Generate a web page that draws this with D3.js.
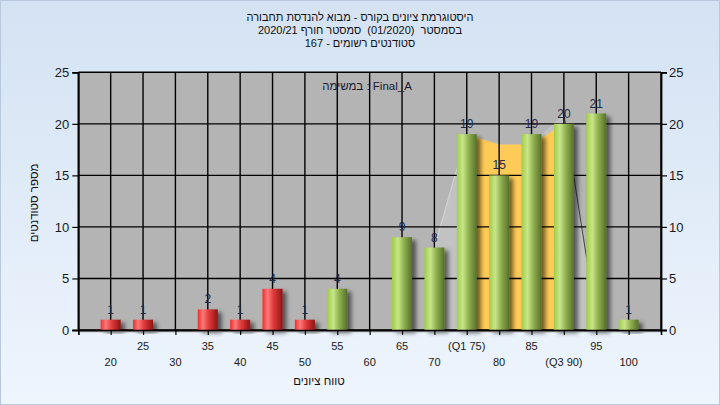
<!DOCTYPE html>
<html><head><meta charset="utf-8">
<script src="https://cdn.jsdelivr.net/npm/d3@7"></script>
<style>html,body{margin:0;padding:0;overflow:hidden}svg{display:block}.pre{white-space:pre}</style>
</head><body>
<script>
// ---- data ----
const categories = [20,25,30,35,40,45,50,55,60,65,70,75,80,85,90,95,100];
const counts     = [1, 1, 0, 2, 1, 4, 1, 4, 0, 9, 8, 19,15,19,20,21,1];
const passThreshold = 55;
const tickLabels = ["20","25","30","35","40","45","50","55","60","65","70","(Q1 75)","80","85","(Q3 90)","95","100"];
const quartileCats = [75,80,85,90];
const quartileTop  = [19,18,18,20];
const spreadCats = [70,75,80,85,90,95];
const spreadTop  = [8,19,18,18,21,1];
const yTicks = [0,5,10,15,20,25];
const titleLines = ["היסטוגרמת ציונים בקורס - מבוא להנדסת תחבורה","בסמסטר  (01/2020)  סמסטר חורף 2020/21","סטודנטים רשומים - 167"];
const legendText = "במשימה : Final_A";
const xTitle = "טווח ציונים";
const yTitle = "מספר סטודנטים";

const W=720,H=405;
const L=78.3,R=661,T=72.3,B=330;
const font = "'Liberation Sans', Arial, sans-serif";

const svg = d3.select("body").append("svg").attr("width",W).attr("height",H);
const defs = svg.append("defs");
const bg = defs.append("linearGradient").attr("id","bg").attr("x1",0).attr("y1",0).attr("x2",0).attr("y2",1);
bg.append("stop").attr("offset",0).attr("stop-color","#d4e2f3");
bg.append("stop").attr("offset",1).attr("stop-color","#eef5fd");
function hgrad(id, stops){
  const g = defs.append("linearGradient").attr("id",id).attr("x1",0).attr("y1",0).attr("x2",1).attr("y2",0);
  stops.forEach(s=>g.append("stop").attr("offset",s[0]).attr("stop-color",s[1]));
}
hgrad("red",[[0,"#f02a2a"],[0.25,"#ff7a7a"],[0.55,"#e03a3a"],[1,"#8e1414"]]);
hgrad("green",[[0,"#a0cc48"],[0.3,"#c8e68a"],[0.6,"#8fb04e"],[1,"#56702a"]]);
const f = defs.append("filter").attr("id","sh").attr("x","-30%").attr("y","-30%").attr("width","180%").attr("height","160%");
f.append("feDropShadow").attr("dx",4).attr("dy",3).attr("stdDeviation",2).attr("flood-color","#000").attr("flood-opacity",0.55);

svg.append("rect").attr("width",W).attr("height",H).attr("fill","url(#bg)");

const x = d3.scaleLinear().domain([15,105]).range([L,R]);
const y = d3.scaleLinear().domain([0,25]).range([B,T]);

svg.append("rect").attr("x",L).attr("y",T).attr("width",R-L).attr("height",B-T).attr("fill","#b4b4b4");

// spread area (light)
const sp = spreadCats.map((c,i)=>[c,spreadTop[i]]);
svg.append("path").datum(sp)
  .attr("d",d3.area().x(d=>x(d[0])).y0(y(0)).y1(d=>y(d[1])))
  .attr("fill","#c2c2c2");
svg.append("path").datum(sp.slice(-2))
  .attr("d",d3.line().x(d=>x(d[0])).y(d=>y(d[1])))
  .attr("fill","none").attr("stroke","#444").attr("stroke-width",1);
svg.append("path").datum(sp.slice(0,2))
  .attr("d",d3.line().x(d=>x(d[0])).y(d=>y(d[1])))
  .attr("fill","none").attr("stroke","#d8d8d8").attr("stroke-width",1);

// quartile area
const qa = quartileCats.map((c,i)=>[c,quartileTop[i]]);
svg.append("path").datum(qa)
  .attr("d",d3.area().x(d=>x(d[0])).y0(y(0)).y1(d=>y(d[1])))
  .attr("fill","#ffcb57");

// grid
const gridX = d3.range(15,106,5);
svg.append("g").selectAll("line").data(gridX).join("line")
  .attr("x1",d=>x(d)).attr("x2",d=>x(d)).attr("y1",T).attr("y2",B)
  .attr("stroke","#000").attr("stroke-width",1.4);
svg.append("g").selectAll("line").data(yTicks).join("line")
  .attr("x1",L).attr("x2",R).attr("y1",d=>y(d)).attr("y2",d=>y(d))
  .attr("stroke","#000").attr("stroke-width",1.4);

// bars
const bw = 20;
const data = categories.map((c,i)=>({c,v:counts[i]}));
svg.append("g").selectAll("rect").data(data.filter(d=>d.v>0)).join("rect")
  .attr("x",d=>x(d.c)-bw/2).attr("width",bw)
  .attr("y",d=>y(d.v)).attr("height",d=>y(0)-y(d.v))
  .attr("fill",d=>d.c>=passThreshold?"url(#green)":"url(#red)")
  .attr("filter","url(#sh)");

// value labels
svg.append("g").selectAll("text").data(data.filter(d=>d.v>0)).join("text")
  .attr("x",d=>x(d.c)).attr("y",d=>y(d.v)-6)
  .attr("text-anchor","middle").attr("font-family",font).attr("font-size",12)
  .attr("fill","#1f2a48").text(d=>d.v);

// axes
svg.append("line").attr("x1",L).attr("x2",R).attr("y1",B+1.5).attr("y2",B+1.5).attr("stroke","#8a8a8a").attr("stroke-width",1.5);
const xa = svg.append("g").attr("transform",`translate(0,${B})`)
  .call(d3.axisBottom(x).tickValues(gridX).tickSize(5).tickFormat(""));
xa.select(".domain").attr("stroke","#000").attr("stroke-width",1.4);
xa.selectAll(".tick line").attr("stroke","#000").attr("stroke-width",1.2);

const ya = svg.append("g").attr("transform",`translate(${L},0)`)
  .call(d3.axisLeft(y).tickValues(yTicks).tickSize(6).tickPadding(3));
const yb = svg.append("g").attr("transform",`translate(${R},0)`)
  .call(d3.axisRight(y).tickValues(yTicks).tickSize(6).tickPadding(2));
[ya,yb].forEach(a=>{
  a.select(".domain").attr("stroke","#000").attr("stroke-width",1.8);
  a.selectAll(".tick line").attr("stroke","#000").attr("stroke-width",1.2);
  a.selectAll(".tick text").attr("font-family",font).attr("font-size",13).attr("fill","#1a1a1a");
});

// x tick labels, staggered
svg.append("g").selectAll("text").data(categories).join("text")
  .attr("x",d=>x(d)).attr("y",(d,i)=>i%2===1?350:366)
  .attr("text-anchor","middle").attr("font-family",font).attr("font-size",11)
  .attr("fill","#1a1a1a").text((d,i)=>tickLabels[i]);

// titles
svg.append("g").selectAll("text").data(titleLines).join("text")
  .attr("class","pre")
  .attr("x",360).attr("y",(d,i)=>21+i*13)
  .attr("text-anchor","middle").attr("direction","rtl")
  .attr("font-family",font).attr("font-size",11).attr("fill","#111").text(d=>d);

svg.append("text").attr("x",367).attr("y",90).attr("text-anchor","middle")
  .attr("font-family",font).attr("font-size",11.5).attr("fill","#1a1a30").text(legendText);

svg.append("text").attr("x",319).attr("y",385).attr("text-anchor","middle").attr("direction","rtl")
  .attr("font-family",font).attr("font-size",11.5).attr("fill","#111").text(xTitle);

svg.append("text").attr("transform","translate(38,203) rotate(-90)").attr("text-anchor","middle").attr("direction","rtl")
  .attr("font-family",font).attr("font-size",11.5).attr("fill","#111").text(yTitle);

svg.append("rect").attr("x",0.5).attr("y",0.5).attr("width",W-1).attr("height",H-1).attr("fill","none").attr("stroke","#b9c9dd");
</script>
</body></html>
